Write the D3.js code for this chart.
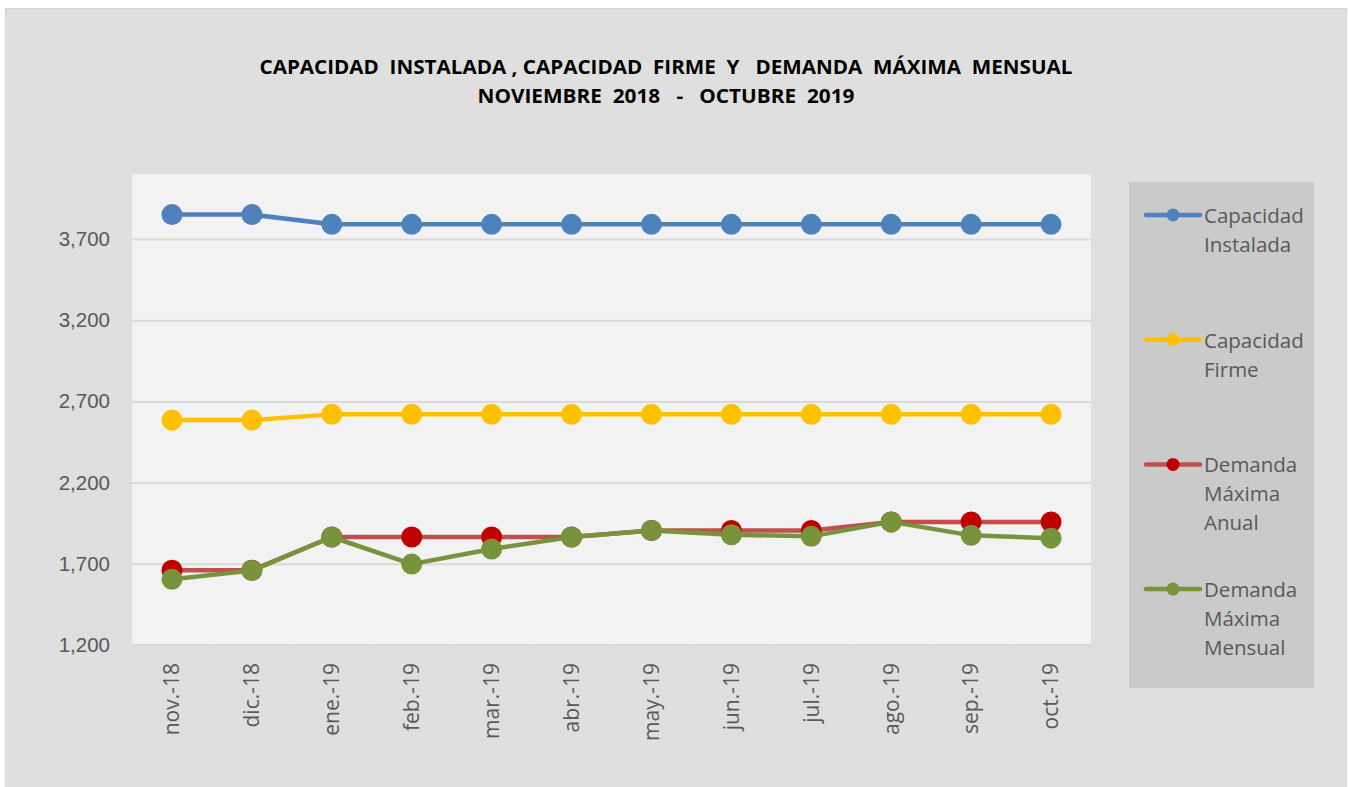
<!DOCTYPE html>
<html>
<head>
<meta charset="utf-8">
<script src="https://cdn.jsdelivr.net/npm/d3@7"></script>
<style>
  body { margin: 0; background: #ffffff; }
  svg { display: block; }
</style>
</head>
<body>
<div id="chart"></div>
<script>
// months on the x axis
const months = ['nov.-18', 'dic.-18', 'ene.-19', 'feb.-19', 'mar.-19', 'abr.-19',
  'may.-19', 'jun.-19', 'jul.-19', 'ago.-19', 'sep.-19', 'oct.-19'];

// series values (MW)
const capInstalada = [3850, 3850, 3790, 3790, 3790, 3790, 3790, 3790, 3790, 3790, 3790, 3790];
const capFirme = [2585, 2585, 2620, 2620, 2620, 2620, 2620, 2620, 2620, 2620, 2620, 2620];
const demAnual = [1660, 1660, 1865, 1865, 1865, 1865, 1905, 1905, 1905, 1958, 1958, 1958];
const demMensual = [1605, 1658, 1865, 1698, 1791, 1865, 1905, 1879, 1869, 1958, 1875, 1858];

const yTicks = [1200, 1700, 2200, 2700, 3200, 3700];

const seriesNames = [['Capacidad', 'Instalada'], ['Capacidad', 'Firme'],
  ['Demanda', 'Máxima', 'Anual'], ['Demanda', 'Máxima', 'Mensual']];

const titleLines = ['CAPACIDAD  INSTALADA , CAPACIDAD  FIRME  Y   DEMANDA  MÁXIMA  MENSUAL',
  'NOVIEMBRE  2018   -   OCTUBRE  2019'];

const width = 1349;
const height = 787;
const plot = { left: 132, right: 1091, top: 174, bottom: 645 };

const series = [
  { name: seriesNames[0], values: capInstalada, line: '#4f81bd', dot: '#4f81bd' },
  { name: seriesNames[1], values: capFirme, line: '#ffc000', dot: '#ffc000' },
  { name: seriesNames[2], values: demAnual, line: '#c0504d', dot: '#c00000' },
  { name: seriesNames[3], values: demMensual, line: '#77933c', dot: '#77933c' }
];

const svg = d3.select('#chart')
  .append('svg')
  .attr('width', width)
  .attr('height', height)
  .attr('font-family', '"Open Sans", sans-serif');

// chart background
svg.append('rect')
  .attr('x', 5.5).attr('y', 8.5)
  .attr('width', 1341).attr('height', 782)
  .attr('fill', '#dfdfdf')
  .attr('stroke', '#d4d4d4');

// title
svg.append('g')
  .selectAll('text')
  .data(titleLines)
  .join('text')
    .attr('x', 666)
    .attr('y', (d, i) => 74 + i * 29)
    .attr('text-anchor', 'middle')
    .attr('font-weight', 'bold')
    .attr('font-size', 19.5)
    .attr('fill', '#000')
    .attr('textLength', (d, i) => i === 0 ? 813 : 377)
    .attr('lengthAdjust', 'spacingAndGlyphs')
    .style('white-space', 'pre')
    .text(d => d);

const x = d3.scaleBand()
  .domain(months)
  .range([plot.left, plot.right])
  .padding(0);

const y = d3.scaleLinear()
  .domain([1200, 4100])
  .range([plot.bottom, plot.top]);

// plot area
svg.append('rect')
  .attr('x', plot.left).attr('y', plot.top)
  .attr('width', plot.right - plot.left)
  .attr('height', plot.bottom - plot.top)
  .attr('fill', '#f2f2f2');

// gridlines + y labels
const yAxis = svg.append('g')
  .attr('transform', `translate(${plot.left},0)`)
  .call(d3.axisLeft(y)
    .tickValues(yTicks)
    .tickSize(-(plot.right - plot.left))
    .tickPadding(22)
    .tickFormat(d3.format(',')));
yAxis.select('.domain').remove();
yAxis.selectAll('.tick line')
  .attr('stroke', '#d9d9d9')
  .attr('stroke-width', 2);
yAxis.selectAll('.tick text')
  .attr('font-size', 20.5)
  .attr('fill', '#595959');

// x axis with category boundary ticks
const xAxis = svg.append('g')
  .attr('transform', `translate(0,${plot.bottom})`);
xAxis.append('line')
  .attr('x1', plot.left).attr('x2', plot.right)
  .attr('stroke', '#d9d9d9')
  .attr('stroke-width', 2);
xAxis.selectAll('.bound')
  .data(months.concat(['end']))
  .join('line')
    .attr('class', 'bound')
    .attr('x1', (d, i) => i < months.length ? x(d) : plot.right)
    .attr('x2', (d, i) => i < months.length ? x(d) : plot.right)
    .attr('y1', 0).attr('y2', 7)
    .attr('stroke', '#d9d9d9')
    .attr('stroke-width', 1.5);
xAxis.selectAll('.lab')
  .data(months)
  .join('text')
    .attr('class', 'lab')
    .attr('transform', d => `translate(${x(d) + x.bandwidth() / 2},18) rotate(-90)`)
    .attr('text-anchor', 'end')
    .attr('dy', '0.35em')
    .attr('font-size', 21)
    .attr('fill', '#595959')
    .text(d => d);

// lines and markers, series by series
const line = d3.line()
  .x((d, i) => x(months[i]) + x.bandwidth() / 2)
  .y(d => y(d));

series.forEach(s => {
  const g = svg.append('g');
  g.append('path')
    .datum(s.values)
    .attr('fill', 'none')
    .attr('stroke', s.line)
    .attr('stroke-width', 4.5)
    .attr('stroke-linejoin', 'round')
    .attr('d', line);
  g.selectAll('circle')
    .data(s.values)
    .join('circle')
      .attr('cx', (d, i) => x(months[i]) + x.bandwidth() / 2)
      .attr('cy', d => y(d))
      .attr('r', 10.5)
      .attr('fill', s.dot);
});

// legend
const legend = svg.append('g');
legend.append('rect')
  .attr('x', 1129).attr('y', 182)
  .attr('width', 185).attr('height', 506)
  .attr('fill', '#cacaca');

const item = legend.selectAll('.item')
  .data(series)
  .join('g')
    .attr('class', 'item')
    .attr('transform', (d, i) => `translate(0,${215 + i * 124.7})`);
item.append('line')
  .attr('x1', 1146).attr('x2', 1200)
  .attr('stroke', d => d.line)
  .attr('stroke-width', 4.5)
  .attr('stroke-linecap', 'round');
item.append('circle')
  .attr('cx', 1173)
  .attr('r', 6.5)
  .attr('fill', d => d.dot);
item.append('text')
  .attr('font-size', 20.5)
  .attr('fill', '#595959')
  .selectAll('tspan')
  .data(d => d.name)
  .join('tspan')
    .attr('x', 1204)
    .attr('y', (d, i) => 8 + i * 29)
    .text(d => d);
</script>
</body>
</html>
